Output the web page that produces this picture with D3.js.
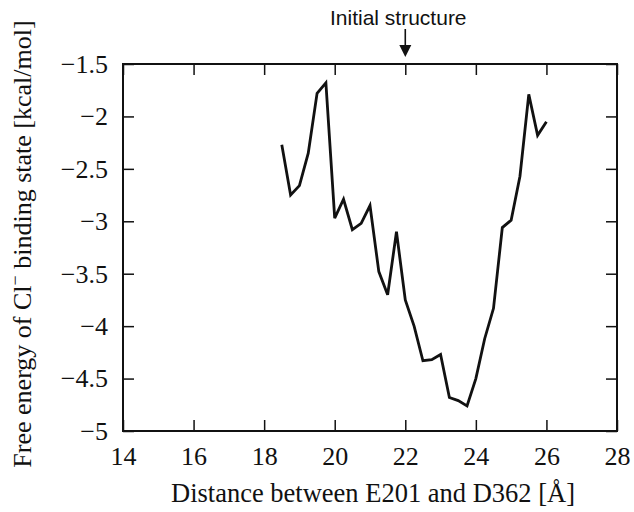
<!DOCTYPE html>
<html>
<head>
<meta charset="utf-8">
<script src="https://cdn.jsdelivr.net/npm/d3@7"></script>
<style>
  body { margin: 0; background: #fff; }
</style>
</head>
<body>
<div id="chart"></div>
<script>
// distance between E201 and D362 (Å)
const distance = [18.5, 18.75, 19, 19.25, 19.5, 19.75, 20, 20.25, 20.5, 20.75, 21,
  21.25, 21.5, 21.75, 22, 22.25, 22.5, 22.75, 23, 23.25, 23.5, 23.75, 24,
  24.25, 24.5, 24.75, 25, 25.25, 25.5, 25.75, 26];
// free energy (kcal/mol)
const energy = [-2.27, -2.75, -2.66, -2.35, -1.78, -1.68, -2.97, -2.79, -3.08, -3.02, -2.85,
  -3.48, -3.70, -3.10, -3.75, -4.00, -4.33, -4.32, -4.27, -4.68, -4.71, -4.76, -4.50,
  -4.12, -3.83, -3.06, -2.99, -2.57, -1.79, -2.18, -2.05];
const xTicks = [14, 16, 18, 20, 22, 24, 26, 28];
const yTicks = [-1.5, -2, -2.5, -3, -3.5, -4, -4.5, -5];
const initialX = 22;

const width = 634, height = 512;
const margin = { top: 64, right: 17, bottom: 81, left: 123 };
const tickLen = 11;

const svg = d3.select('#chart').append('svg')
  .attr('width', width)
  .attr('height', height);

const x = d3.scaleLinear().domain([14, 28]).range([margin.left, width - margin.right]);
const y = d3.scaleLinear().domain([-5, -1.5]).range([height - margin.bottom, margin.top]);

const fmt = v => String(v).replace('-', '\u2212');
const serif = '"Liberation Serif", "Times New Roman", serif';

// axes, ticks pointing into the plot
const axBottom = svg.append('g')
  .attr('transform', `translate(0,${y(-5)})`)
  .call(d3.axisBottom(x).tickValues(xTicks).tickSizeInner(-tickLen).tickSizeOuter(0).tickPadding(16).tickFormat(fmt));
const axLeft = svg.append('g')
  .attr('transform', `translate(${x(14)},0)`)
  .call(d3.axisLeft(y).tickValues(yTicks).tickSizeInner(-tickLen).tickSizeOuter(0).tickPadding(15).tickFormat(fmt));
const axTop = svg.append('g')
  .attr('transform', `translate(0,${y(-1.5)})`)
  .call(d3.axisTop(x).tickValues(xTicks).tickSizeInner(-tickLen).tickSizeOuter(0).tickFormat(''));
const axRight = svg.append('g')
  .attr('transform', `translate(${x(28)},0)`)
  .call(d3.axisRight(y).tickValues(yTicks).tickSizeInner(-tickLen).tickSizeOuter(0).tickFormat(''));

[axBottom, axLeft, axTop, axRight].forEach(g => {
  g.attr('font-family', serif).attr('font-size', 26);
  g.select('.domain').remove();
  g.selectAll('line').attr('stroke', '#111').attr('stroke-width', 1.5);
  g.selectAll('text').attr('fill', '#111').attr('font-family', serif).attr('font-size', 26);
});

// frame
svg.append('rect')
  .attr('x', x(14)).attr('y', y(-1.5))
  .attr('width', x(28) - x(14)).attr('height', y(-5) - y(-1.5))
  .attr('fill', 'none').attr('stroke', '#111').attr('stroke-width', 2);

// data line
const line = d3.line()
  .x((d, i) => x(distance[i]))
  .y(d => y(d));
svg.append('path')
  .datum(energy)
  .attr('d', line)
  .attr('fill', 'none')
  .attr('stroke', '#111')
  .attr('stroke-width', 2.8)
  .attr('stroke-linejoin', 'miter');

// initial structure marker
svg.append('text')
  .attr('x', x(initialX) - 7).attr('y', 25)
  .attr('text-anchor', 'middle')
  .attr('font-family', '"Liberation Sans", Arial, sans-serif')
  .attr('font-size', 21)
  .attr('fill', '#111')
  .text('Initial structure');
svg.append('line')
  .attr('x1', x(initialX)).attr('x2', x(initialX))
  .attr('y1', 29).attr('y2', 48)
  .attr('stroke', '#111').attr('stroke-width', 1.6);
svg.append('path')
  .attr('d', `M${x(initialX) - 6},45 L${x(initialX) + 6},45 L${x(initialX)},57 Z`)
  .attr('fill', '#111');

// axis titles
svg.append('text')
  .attr('x', x(21) + 3).attr('y', 502)
  .attr('text-anchor', 'middle')
  .attr('font-family', serif).attr('font-size', 26.5).attr('fill', '#111')
  .text('Distance between E201 and D362 [\u00c5]');

const yTitle = svg.append('text')
  .attr('transform', `translate(31,244) rotate(-90)`)
  .attr('text-anchor', 'middle')
  .attr('font-family', serif).attr('font-size', 26).attr('fill', '#111');
yTitle.append('tspan').text('Free energy of Cl');
yTitle.append('tspan').attr('dy', -10).attr('font-size', 18).text('\u2212');
yTitle.append('tspan').attr('dy', 10).text(' binding state [kcal/mol]');
</script>
</body>
</html>
